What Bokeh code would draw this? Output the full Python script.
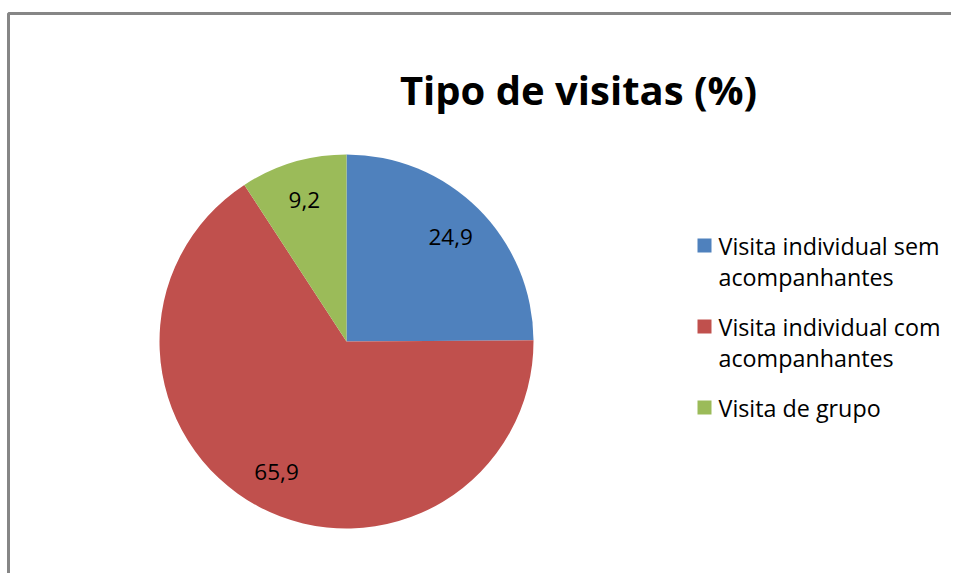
import math
import textwrap
from bokeh.plotting import figure
from bokeh.models import ColumnDataSource, Range1d
from bokeh.core.properties import value
from bokeh.embed import file_html
from bokeh.resources import INLINE

title = "Tipo de visitas (%)"
categories = ["Visita individual sem acompanhantes",
              "Visita individual com acompanhantes",
              "Visita de grupo"]
values = [24.9, 65.9, 9.2]
labels = ["24,9", "65,9", "9,2"]
colors = ["#4F81BD", "#C0504D", "#9BBB59"]

W, H = 951, 573
FONT = "Open Sans"

p = figure(width=W, height=H, output_backend="svg", toolbar_location=None,
           x_range=Range1d(0, W), y_range=Range1d(0, H),
           min_border=0, outline_line_color=None)
p.axis.visible = False
p.grid.visible = False
p.background_fill_color = "white"
p.border_fill_color = "white"

# screen coords (from top-left) -> data coords
def px(x):
    return x
def py(y):
    return H - y

# outer chart border (top and left visible)
p.line([px(8), px(8), px(960)], [py(600), py(13), py(13)], line_color="#868686", line_width=3)

# pie
cx, cy, R = px(346), py(341), 187
total = sum(values)
starts, ends, lx, ly = [], [], [], []
cum = 0.0
for v in values:
    a0 = math.pi / 2 - 2 * math.pi * cum / total
    cum += v
    a1 = math.pi / 2 - 2 * math.pi * cum / total
    starts.append(a0)
    ends.append(a1)
    mid = (a0 + a1) / 2
    lx.append(cx + 0.79 * R * math.cos(mid))
    ly.append(cy + 0.79 * R * math.sin(mid))

src = ColumnDataSource(dict(start=starts, end=ends, color=colors,
                            lx=lx, ly=ly, label=labels))
p.wedge(x=cx, y=cy, radius=R, start_angle="start", end_angle="end",
        direction="clock", fill_color="color", line_color=None, source=src)
p.text(x="lx", y="ly", text="label", source=src, text_align="center",
       text_baseline="middle", text_font=value(FONT), text_font_size="22.5px",
       text_color="black")

# title
p.text(x=[px(578)], y=[py(89)], text=[title], text_align="center",
       text_baseline="middle", text_font=value(FONT), text_font_size="40px",
       text_font_style="bold", text_color="black")

# legend
lg_x, lg_y0, entry_gap, line_gap = px(704), py(245), 81, 31
sq_x, sq_y, sq_c = [], [], []
tx, ty, tt = [], [], []
for i, (cat, col) in enumerate(zip(categories, colors)):
    y0 = lg_y0 - entry_gap * i
    sq_x.append(lg_x)
    sq_y.append(y0)
    sq_c.append(col)
    for j, line in enumerate(textwrap.wrap(cat, 22)):
        tx.append(lg_x + 14)
        ty.append(y0 - line_gap * j)
        tt.append(line)
p.scatter(x=sq_x, y=sq_y, marker="square", size=14, fill_color=sq_c, line_color=None)
p.text(x=tx, y=ty, text=tt, text_align="left", text_baseline="middle",
       text_font=value(FONT), text_font_size="23.3px", text_color="black")

open("out.html", "w").write(file_html(p, INLINE))
